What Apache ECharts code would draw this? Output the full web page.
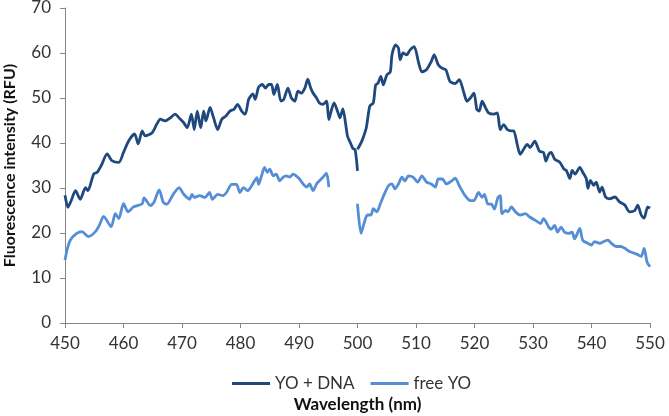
<!DOCTYPE html>
<html>
<head>
<meta charset="utf-8">
<script src="https://cdn.jsdelivr.net/npm/echarts@6/dist/echarts.min.js"></script>
<style>
  html, body { margin: 0; padding: 0; background: #fff; }
  #chart { width: 669px; height: 416px; }
</style>
</head>
<body>
<div id="chart"></div>
<script>
// wavelength (nm), fluorescence (RFU)
const yoDnaScan1 = [
  [450.0, 28.4], [450.5, 25.7], [451.0, 27.0], [451.8, 29.4], [452.6, 27.5], [453.5, 30.1], [453.9, 29.4],
  [454.9, 33.1], [455.5, 33.5], [456.2, 35.0], [457.2, 37.6], [458.0, 36.1], [459.2, 35.7], [460.0, 37.9],
  [460.9, 40.5], [461.9, 42.0], [462.5, 39.8], [463.2, 42.7], [463.7, 41.6], [464.9, 42.3], [465.7, 44.2],
  [466.3, 45.3], [467.1, 44.9], [468.0, 45.6], [468.8, 46.4], [469.7, 45.3], [470.3, 44.5], [470.9, 43.4],
  [471.6, 46.4], [472.1, 43.0], [472.6, 47.1], [473.2, 43.4], [473.7, 47.1], [474.1, 44.9], [474.8, 47.9],
  [475.4, 45.6], [476.1, 43.0], [476.8, 45.3], [477.5, 46.0], [478.2, 47.1], [478.9, 47.5], [479.5, 48.6],
  [480.2, 47.1], [480.8, 46.4], [481.4, 49.7], [482.1, 50.9], [482.5, 49.7], [483.1, 52.4], [483.7, 53.0],
  [484.3, 52.2], [484.8, 53.0], [485.3, 53.0], [485.7, 50.8], [486.3, 53.0], [486.9, 49.3], [487.4, 49.7],
  [488.1, 52.2], [488.7, 50.0], [489.3, 49.3], [489.8, 51.5], [490.4, 51.1], [491.0, 52.2], [491.5, 54.2],
  [492.0, 52.2], [492.4, 51.1], [493.0, 50.0], [493.5, 48.9], [494.1, 48.6], [494.7, 49.3], [495.1, 45.2],
  [495.5, 47.1], [496.0, 48.9], [496.6, 47.0], [497.0, 45.6], [497.5, 47.6], [498.0, 44.0], [498.3, 41.5],
  [498.8, 40.0], [499.2, 38.8], [499.6, 38.5], [500.0, 33.8]
];
const yoDnaScan2 = [
  [500.0, 38.6], [500.7, 40.3], [501.5, 43.4], [502.1, 48.2], [502.7, 48.9], [503.1, 52.9], [503.5, 53.3],
  [504.0, 54.8], [504.4, 52.9], [505.0, 55.1], [505.6, 55.8], [505.9, 59.6], [506.5, 61.8], [507.0, 61.1],
  [507.3, 58.5], [507.8, 60.0], [508.4, 59.6], [509.0, 60.7], [509.7, 61.4], [510.4, 58.1], [511.0, 55.8],
  [511.8, 56.3], [512.6, 58.1], [513.1, 59.6], [513.8, 57.4], [514.5, 56.6], [515.1, 56.3], [515.8, 53.7],
  [516.7, 53.2], [517.4, 54.1], [518.2, 51.1], [518.7, 49.3], [519.3, 50.0], [519.9, 51.1], [520.4, 47.5],
  [520.8, 47.1], [521.3, 49.3], [521.9, 47.8], [522.4, 46.7], [523.3, 46.4], [523.9, 46.7], [524.4, 43.0],
  [525.0, 44.1], [525.6, 43.0], [526.3, 42.7], [526.7, 42.7], [527.3, 39.7], [527.8, 37.5], [528.4, 38.6],
  [529.0, 39.7], [529.5, 39.0], [530.3, 40.4], [531.1, 38.2], [531.8, 37.9], [532.2, 36.0], [532.7, 37.5],
  [533.1, 37.9], [533.7, 36.4], [534.6, 35.7], [535.3, 34.2], [535.7, 33.9], [536.3, 32.1], [536.7, 33.9],
  [537.2, 33.1], [538.0, 34.6], [538.5, 33.5], [539.1, 32.1], [539.4, 29.9], [539.8, 31.7], [540.4, 30.6],
  [540.8, 31.3], [541.4, 29.1], [541.8, 30.2], [542.4, 28.0], [543.1, 27.6], [544.0, 28.0], [544.8, 26.9],
  [545.7, 26.2], [546.5, 24.7], [547.4, 25.0], [547.9, 26.2], [548.5, 24.0], [549.0, 23.3], [549.6, 25.8],
  [550.0, 25.5]
];
const freeYoScan1 = [
  [450.0, 14.0], [450.4, 16.5], [450.9, 18.4], [452.0, 19.9], [452.9, 20.3], [454.0, 19.2], [455.2, 20.3],
  [455.9, 21.8], [456.6, 23.7], [457.9, 21.4], [458.6, 24.3], [459.2, 23.2], [460.0, 26.5], [460.8, 24.7],
  [461.7, 25.8], [463.2, 26.5], [463.5, 27.8], [464.6, 26.1], [465.2, 26.8], [466.1, 29.6], [466.8, 26.8],
  [467.4, 26.4], [468.5, 28.6], [469.5, 30.1], [470.3, 28.6], [471.3, 27.5], [471.7, 28.6], [472.1, 27.9],
  [473.0, 28.3], [473.9, 27.9], [474.7, 29.0], [475.2, 27.5], [476.1, 28.6], [477.0, 28.3], [477.6, 29.0],
  [478.5, 30.8], [479.3, 30.8], [479.9, 29.0], [480.5, 30.1], [481.2, 29.4], [481.9, 30.5], [482.8, 32.3],
  [483.1, 30.8], [483.6, 32.7], [484.1, 34.6], [484.6, 33.5], [485.0, 34.2], [485.6, 32.7], [486.1, 33.1],
  [486.7, 31.6], [487.3, 32.4], [487.8, 32.7], [488.4, 32.4], [489.0, 33.1], [489.5, 32.7], [490.1, 32.0],
  [490.7, 30.9], [491.3, 30.2], [491.8, 30.9], [492.4, 29.4], [493.0, 30.9], [493.5, 31.6], [494.1, 32.4],
  [494.7, 33.3], [495.1, 30.2]
];
const freeYoScan2 = [
  [500.0, 26.5], [500.6, 19.9], [501.2, 22.5], [501.7, 24.0], [502.3, 24.0], [502.7, 25.4], [503.3, 24.7],
  [503.9, 26.5], [504.6, 28.7], [505.3, 30.5], [505.9, 30.9], [506.4, 29.8], [507.0, 30.9], [507.6, 32.4],
  [508.1, 31.6], [508.7, 32.7], [509.5, 32.4], [510.3, 31.3], [511.0, 32.7], [511.8, 31.3], [512.6, 30.9],
  [513.3, 30.2], [513.8, 32.0], [514.5, 32.0], [515.2, 30.9], [516.1, 31.6], [516.7, 32.2], [517.4, 30.5],
  [518.4, 28.3], [519.3, 27.2], [519.9, 27.2], [520.7, 29.0], [521.3, 27.9], [521.7, 28.6], [522.3, 26.4],
  [522.9, 26.4], [523.4, 25.3], [524.0, 27.9], [524.4, 28.3], [524.7, 24.3], [525.3, 25.0], [525.7, 24.7],
  [526.3, 25.8], [527.0, 24.7], [527.8, 24.0], [528.7, 24.3], [529.5, 23.5], [530.4, 22.8], [531.3, 22.1],
  [531.8, 23.2], [532.7, 21.3], [533.1, 20.8], [533.7, 21.7], [534.2, 20.2], [534.8, 21.3], [535.4, 20.2],
  [536.1, 19.9], [536.7, 20.2], [537.1, 18.7], [538.0, 21.0], [538.5, 18.4], [539.4, 17.7], [540.0, 17.3],
  [540.5, 18.1], [541.4, 17.7], [542.1, 18.1], [542.8, 18.4], [543.4, 17.7], [544.2, 17.0], [545.0, 17.0],
  [545.7, 16.6], [546.5, 15.9], [547.3, 15.5], [547.9, 15.2], [548.5, 14.8], [549.0, 16.6], [549.5, 13.5],
  [550.0, 12.5]
];
const seriesNames = ["YO + DNA", "free YO"];

const FONT = "Lato";
const mychart = echarts.init(document.getElementById("chart"));

// the two scans are drawn as one line with a break between them
const joinScans = (a, b) => a.concat([[a[a.length - 1][0], "-"]], b);

const option = {
  animation: false,
  backgroundColor: "#ffffff",
  grid: { left: 65, right: 19, top: 8, bottom: 93, outerBoundsMode: "none", containLabel: false },
  xAxis: {
    type: "value",
    min: 450,
    max: 550,
    interval: 10,
    name: "Wavelength (nm)",
    nameLocation: "middle",
    nameGap: 73,
    nameTextStyle: { fontFamily: FONT, fontSize: 17, fontWeight: "bold", color: "#111" },
    axisLine: { lineStyle: { color: "#868686", width: 1 } },
    axisTick: { length: 5, lineStyle: { color: "#868686" } },
    axisLabel: { fontFamily: FONT, fontSize: 17, color: "#333", margin: 12 },
    splitLine: { show: false },
  },
  yAxis: {
    type: "value",
    min: 0,
    max: 70,
    interval: 10,
    name: "Fluorescence intensity (RFU)",
    nameLocation: "middle",
    nameGap: 47,
    nameTextStyle: { fontFamily: FONT, fontSize: 16, fontWeight: "bold", color: "#111" },
    axisLine: { show: true, lineStyle: { color: "#868686", width: 1 } },
    axisTick: { show: true, length: 5, lineStyle: { color: "#868686" } },
    axisLabel: { fontFamily: FONT, fontSize: 17, color: "#333", margin: 14 },
    splitLine: { show: false },
  },
  legend: {
    data: seriesNames,
    left: 227,
    top: 370,
    icon: "rect",
    itemWidth: 38,
    itemHeight: 3,
    itemGap: 16,
    textStyle: { fontFamily: FONT, fontSize: 17, color: "#333" },
  },
  series: [
    {
      name: seriesNames[0],
      type: "line",
      data: joinScans(yoDnaScan1, yoDnaScan2),
      symbol: "none",
      smooth: 0.25,
      connectNulls: false,
      color: "#1F497D",
      lineStyle: { color: "#1F497D", width: 2.8 },
    },
    {
      name: seriesNames[1],
      type: "line",
      data: joinScans(freeYoScan1, freeYoScan2),
      symbol: "none",
      smooth: 0.25,
      connectNulls: false,
      color: "#558ED5",
      lineStyle: { color: "#558ED5", width: 2.8 },
    },
  ],
};
mychart.setOption(option);
</script>
</body>
</html>
